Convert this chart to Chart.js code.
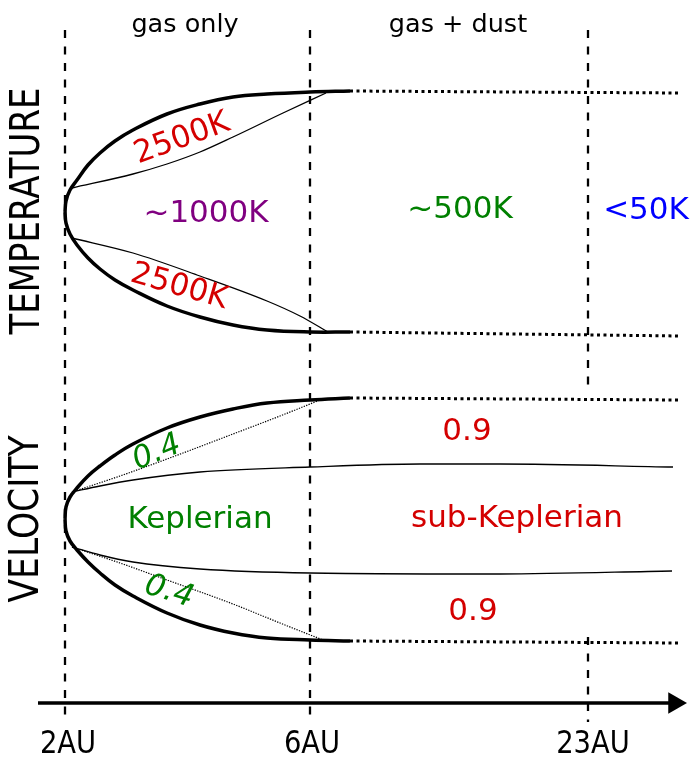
<!DOCTYPE html>
<html>
<head>
<meta charset="utf-8">
<title>Temperature and velocity schematic</title>
<script src="https://cdn.jsdelivr.net/npm/chart.js@4.4.1/dist/chart.umd.min.js"></script>
<style>
  html, body { margin: 0; padding: 0; background: #fff; }
  #wrap { width: 691px; height: 757px; position: relative; }
</style>
</head>
<body>
<div id="wrap"><canvas id="chart"></canvas></div>
<script>
// schematic coordinates: x = position along the radius axis, y = height in the sketch (down is larger)
const boundaryX = [65, 310, 588];
const tickLabels = ['2AU', '6AU', '23AU'];
const regionLabels = ['gas only', 'gas + dust'];
const panelTitles = ['TEMPERATURE', 'VELOCITY'];
const temperatureLabels = ['2500K', '~1000K', '2500K', '~500K', '<50K'];
const velocityLabels = ['0.4', 'Keplerian', '0.4', '0.9', 'sub-Keplerian', '0.9'];

// temperature panel
const tempOuterTop = [[65,212],[66,201],[70,190],[77,180],[88,165],[100,153],[115,141],[133,130],[167,114],[200,104],[233,97],[267,94],[310,92],[350,91]];
const tempOuterBottom = [[65,212],[66,223],[70,234],[77,245],[88,258],[100,269],[115,280],[133,290],[167,306],[200,317],[233,325],[267,330],[310,332],[350,332]];
const tempInnerTop = [[72,188],[133,174],[167,164],[200,152],[233,137],[283,113],[326,93]];
const tempInnerBottom = [[72,238],[133,253],[200,276],[267,301],[300,316],[328,332]];
const tempOuterTopFar = [[350,91],[680,93]];
const tempOuterBottomFar = [[350,332],[680,336]];

// velocity panel
const velOuterTop = [[65,519],[66,507],[70,497],[77,488],[88,476],[100,466],[115,455],[133,444],[167,428],[200,417],[233,409],[267,403],[310,400],[350,398]];
const velOuterBottom = [[65,519],[66,531],[70,541],[77,550],[88,562],[100,573],[115,585],[133,596],[167,613],[200,625],[233,633],[267,638],[310,640],[350,641]];
const velSubTop = [[72,492],[100,486],[133,480],[200,472],[310,467],[420,464],[500,464],[673,467]];
const velSubBottom = [[72,547],[100,555],[133,562],[200,569],[310,573],[500,574],[672,571]];
const velKepTop = [[72,492],[120,476],[167,459],[233,434],[280,416],[320,400]];
const velKepBottom = [[72,547],[120,563],[167,580],[233,604],[280,623],[323,640]];
const velOuterTopFar = [[350,398],[680,400]];
const velOuterBottomFar = [[350,641],[680,643]];

// boundaries and axis
const boundary2AU = [[65,30],[65,722]];
const boundary6AU = [[310,30],[310,722]];
const boundary23AUTop = [[588,30],[588,392]];
const boundary23AUBottom = [[588,637],[588,722]];
const radiusAxis = [[38,703],[670,703]];
const radiusArrowTip = [[674.5,703]];

function curve(data, width, dash, smooth) {
    const ds = {
        data: data,
        showLine: true,
        borderColor: '#000',
        borderWidth: width,
        borderDash: dash || [],
        borderCapStyle: 'butt',
        pointRadius: 0,
        fill: false
    };
    if (smooth === 'bezier') ds.tension = 0.4;
    if (smooth === 'monotone') ds.cubicInterpolationMode = 'monotone';
    return ds;
}

const dashed = [8, 8.5];
const dotted = [3, 3.5];
const fine = [1.3, 1.3];

const datasets = [
    curve(boundary2AU, 2.3, dashed),
    curve(boundary6AU, 2.3, dashed),
    curve(boundary23AUTop, 2.3, dashed),
    curve(boundary23AUBottom, 2.3, dashed),
    curve(tempOuterTop, 3.5, null, 'bezier'),
    curve(tempOuterBottom, 3.5, null, 'bezier'),
    curve(tempInnerTop, 1.3, null, 'monotone'),
    curve(tempInnerBottom, 1.3, null, 'monotone'),
    curve(tempOuterTopFar, 3, dotted),
    curve(tempOuterBottomFar, 3, dotted),
    curve(velOuterTop, 3.5, null, 'bezier'),
    curve(velOuterBottom, 3.5, null, 'bezier'),
    curve(velSubTop, 1.3, null, 'monotone'),
    curve(velSubBottom, 1.3, null, 'monotone'),
    curve(velKepTop, 1.2, fine, 'monotone'),
    curve(velKepBottom, 1.2, fine, 'monotone'),
    curve(velOuterTopFar, 3, dotted),
    curve(velOuterBottomFar, 3, dotted),
    curve(radiusAxis, 3.5),
    {
        data: radiusArrowTip,
        showLine: false,
        pointStyle: 'triangle',
        rotation: 90,
        pointRadius: 12.5,
        pointBackgroundColor: '#000',
        pointBorderWidth: 0
    }
];

// where each text goes: [text, x, y, size, stretch, angle, colour, baseline, italic]
const red = '#d40000', green = '#008000', purple = '#800080', blue = '#0000ff';
const textItems = [
    [regionLabels[0], 185, 32, 25.5, 1, 0, '#000', 'alphabetic'],
    [regionLabels[1], 458, 32, 25.5, 1, 0, '#000', 'alphabetic'],
    [panelTitles[0], 28, 211, 34, 1.2, -90, '#000', 'middle'],
    [panelTitles[1], 28, 519, 34.5, 1.16, -90, '#000', 'middle'],
    [temperatureLabels[0], 182, 139, 31, 1, -20, red, 'middle'],
    [temperatureLabels[1], 206, 222, 31, 1, 0, purple, 'alphabetic'],
    [temperatureLabels[2], 179, 287, 31, 1, 16, red, 'middle'],
    [temperatureLabels[3], 460, 218, 31, 1, 0, green, 'alphabetic'],
    [temperatureLabels[4], 646, 219, 31, 1, 0, blue, 'alphabetic'],
    [velocityLabels[0], 157, 453, 31, 1, -22, green, 'middle', true],
    [velocityLabels[1], 200, 528, 31, 1, 0, green, 'alphabetic'],
    [velocityLabels[2], 169, 592, 31, 1, 17, green, 'middle', true],
    [velocityLabels[3], 467, 440, 31, 1, 0, red, 'alphabetic'],
    [velocityLabels[4], 517, 527, 31, 1, 0, red, 'alphabetic'],
    [velocityLabels[5], 473, 620, 31, 1, 0, red, 'alphabetic']
];
const tickOffsets = [3, 2, 5];

const sketchText = {
    id: 'sketchText',
    afterDatasetsDraw(chart) {
        const ctx = chart.ctx;
        const xs = chart.scales.x, ys = chart.scales.y;
        const put = (t, x, y, size, stretch, angle, colour, baseline, italic) => {
            ctx.save();
            ctx.translate(xs.getPixelForValue(x), ys.getPixelForValue(y));
            ctx.scale(stretch, 1);
            ctx.rotate(angle * Math.PI / 180);
            ctx.font = (italic ? 'oblique ' : '') + size + 'px "DejaVu Sans"';
            ctx.fillStyle = colour;
            ctx.textAlign = 'center';
            ctx.textBaseline = baseline;
            ctx.fillText(t, 0, 0);
            ctx.restore();
        };
        textItems.forEach(item => put(...item));
        tickLabels.forEach((t, i) => put(t, boundaryX[i] + tickOffsets[i], 753, 31.5, 0.87, 0, '#000', 'alphabetic'));
    }
};

new Chart(document.getElementById('chart'), {
    type: 'scatter',
    data: { datasets: datasets },
    options: {
        responsive: true,
        maintainAspectRatio: false,
        animation: false,
        layout: { padding: 0, autoPadding: false },
        plugins: { legend: { display: false }, tooltip: { enabled: false } },
        events: [],
        scales: {
            x: { type: 'linear', min: 0, max: 691, display: false },
            y: { type: 'linear', min: 0, max: 757, reverse: true, display: false }
        }
    },
    plugins: [sketchText]
});
</script>
</body>
</html>
